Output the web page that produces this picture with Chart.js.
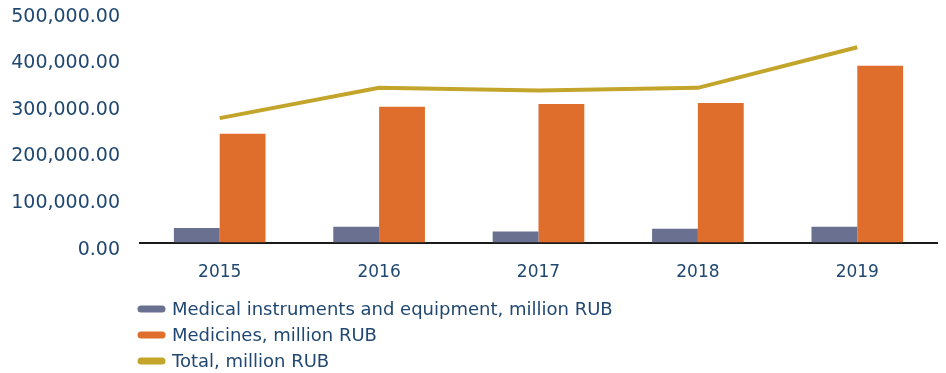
<!DOCTYPE html>
<html>
<head>
<meta charset="utf-8">
<script src="https://cdn.jsdelivr.net/npm/chart.js@4.4.0/dist/chart.umd.min.js"></script>
<style>
  html, body { margin: 0; padding: 0; background: #fff; }
  #wrap { width: 946px; height: 373px; position: relative; }
</style>
</head>
<body>
<div id="wrap"><canvas id="chart"></canvas></div>
<script>
const years = ["2015", "2016", "2017", "2018", "2019"];
const equipment = [31500, 34000, 23600, 30000, 34000];
const medicines = [234000, 292000, 298000, 300000, 380000];
const total = [267600, 333000, 327000, 332600, 420000];
const yTicks = [0, 100000, 200000, 300000, 400000, 500000];

const textColor = "#1f4770";
const fontFamily = "'DejaVu Sans', sans-serif";

const fmt = (v) =>
  v.toLocaleString("en-US", { minimumFractionDigits: 2, maximumFractionDigits: 2 });

// legend drawn as a vertical list under the x axis, bars first then the line
const listLegend = {
  id: "listLegend",
  afterDraw(chart) {
    const ctx = chart.ctx;
    const x0 = 141, y0 = 309, step = 26;
    const items = chart.data.datasets
      .map((ds) => ds)
      .sort((a, b) => a.legendOrder - b.legendOrder);
    ctx.save();
    items.forEach((ds, i) => {
      const y = y0 + i * step;
      ctx.strokeStyle = ds.legendColor;
      ctx.lineWidth = 7;
      ctx.lineCap = "round";
      ctx.beginPath();
      ctx.moveTo(x0, y);
      ctx.lineTo(x0 + 21, y);
      ctx.stroke();
      ctx.fillStyle = textColor;
      ctx.font = "18px " + fontFamily;
      ctx.textBaseline = "middle";
      ctx.fillText(ds.label, x0 + 31, y + 1);
    });
    ctx.restore();
  },
};

new Chart(document.getElementById("chart"), {
  data: {
    labels: years,
    datasets: [
      {
        type: "line",
        label: "Total, million RUB",
        data: total,
        borderColor: "#c4a52b",
        legendColor: "#c4a52b",
        legendOrder: 2,
        borderWidth: 4,
        pointRadius: 0,
        tension: 0,
        order: 0,
      },
      {
        type: "bar",
        label: "Medical instruments and equipment, million RUB",
        data: equipment,
        backgroundColor: "#6a7190",
        legendColor: "#6a7190",
        legendOrder: 0,
        categoryPercentage: 0.575,
        barPercentage: 1.0,
        order: 1,
      },
      {
        type: "bar",
        label: "Medicines, million RUB",
        data: medicines,
        backgroundColor: "#df6d2b",
        legendColor: "#df6d2b",
        legendOrder: 1,
        categoryPercentage: 0.575,
        barPercentage: 1.0,
        order: 2,
      },
    ],
  },
  options: {
    responsive: true,
    maintainAspectRatio: false,
    animation: false,
    layout: { padding: { top: 10, right: 9, left: 0, bottom: 70 } },
    plugins: {
      legend: { display: false },
      tooltip: { enabled: false },
    },
    scales: {
      x: {
        grid: { display: false, drawTicks: false },
        border: { display: true, color: "#1a1a1a", width: 2 },
        ticks: {
          color: textColor,
          font: { family: fontFamily, size: 17 },
          padding: 20,
        },
      },
      y: {
        min: 0,
        max: 500000,
        afterBuildTicks: (scale) => {
          scale.ticks = yTicks.map((v) => ({ value: v }));
        },
        afterFit: (scale) => {
          scale.width = 140;
          scale.paddingTop = 0;
          scale.paddingBottom = 0;
        },
        grid: { display: false, drawTicks: false },
        border: { display: false },
        ticks: {
          color: textColor,
          font: { family: fontFamily, size: 19 },
          padding: 20,
          labelOffset: 7,
          callback: (v) => fmt(v),
        },
      },
    },
  },
  plugins: [listLegend],
});
</script>
</body>
</html>
